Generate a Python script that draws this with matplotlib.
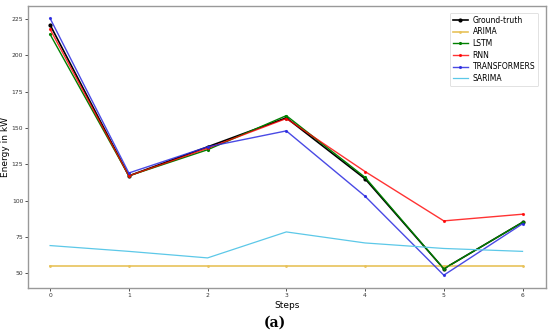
import matplotlib
matplotlib.use("Agg")
import matplotlib.pyplot as plt

steps = [0, 1, 2, 3, 4, 5, 6]
ground_truth = [221, 117, 137, 157, 115, 53, 85]
arima = [55, 55, 55, 55, 55, 55, 55]
lstm = [214.5, 117, 135, 158.5, 116, 53, 85]
rnn = [218, 117, 136, 156.5, 120, 86, 90.6]
transformers = [225.5, 119, 137, 148, 103, 48.6, 84]
sarima = [69, 65, 60.5, 78.4, 70.8, 67, 65]
yticks = [50, 75, 100, 125, 150, 175, 200, 225]

fig = plt.figure(figsize=(5.5, 3.35), dpi=100)
ax = fig.add_axes([0.051, 0.14, 0.942, 0.842])

ax.plot(steps, ground_truth, color='black', marker='.', markersize=4, lw=1.2, label='Ground-truth')
ax.plot(steps, arima, color='#e8c25a', marker='.', markersize=2, lw=1.2, label='ARIMA')
ax.plot(steps, lstm, color='green', marker='.', markersize=2.5, lw=1.0, label='LSTM')
ax.plot(steps, rnn, color='red', marker='.', markersize=2.5, lw=1.0, alpha=0.8, label='RNN')
ax.plot(steps, transformers, color='#2a2ae0', marker='.', markersize=2.5, lw=1.0, alpha=0.85, label='TRANSFORMERS')
ax.plot(steps, sarima, color='#5cc8e8', lw=0.9, label='SARIMA')

ax.set_xlim(-0.28, 6.3)
ax.set_ylim(39.7, 234)
ax.set_xticks(steps)
ax.set_yticks(yticks)
ax.tick_params(labelsize=4.3, length=2, width=0.6, pad=1.5, colors='#333333')
for s in ax.spines.values():
    s.set_color('#999999')
    s.set_linewidth(1.0)

ax.set_xlabel('Steps', fontsize=6.5, labelpad=2)
ax.set_ylabel('Energy in kW', fontsize=6.5, labelpad=1)

leg = ax.legend(loc='upper right', fontsize=5.5, frameon=True, handlelength=2.0,
                borderpad=0.4, labelspacing=0.35, handletextpad=0.6,
                bbox_to_anchor=(0.992, 0.99))
leg.get_frame().set_linewidth(0.5)

fig.text(0.5, 0.038, '(a)', ha='center', va='center', fontsize=10,
         fontweight='bold', family='DejaVu Serif')

fig.savefig('out.png', dpi=100)
